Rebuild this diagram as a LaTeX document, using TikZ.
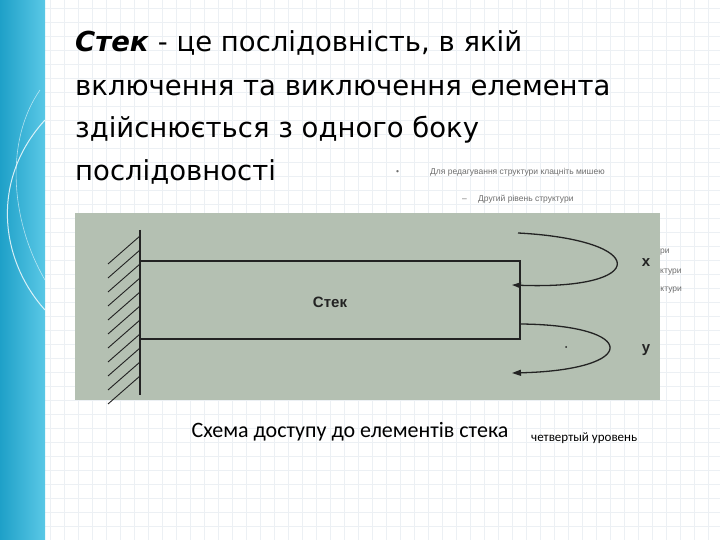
\documentclass[tikz,border=0pt]{standalone}
\usepackage{fontspec}
\setmainfont{Carlito}
\newfontfamily\smallsans{Liberation Sans}
\newfontfamily\ttlfont{DejaVu Sans}
\usetikzlibrary{arrows.meta}
\definecolor{scan}{RGB}{180,192,178}
\definecolor{bandA}{RGB}{30,160,200}
\definecolor{bandB}{RGB}{90,200,230}
\definecolor{gridc}{RGB}{236,240,244}
\definecolor{ink}{RGB}{35,35,35}
\definecolor{faint}{RGB}{110,110,110}
\tikzset{
  ttl/.style={anchor=base west,inner sep=0pt,font=\ttlfont\fontsize{27.5}{28}\selectfont},
  small/.style={anchor=base west,inner sep=0pt,text=faint,font=\smallsans\fontsize{8.5}{9}\selectfont},
  arc/.style={ink,line width=1.3pt},
  tip/.style={-{Triangle[length=9pt,width=6pt]}},
  scanlbl/.style={font=\smallsans\bfseries\fontsize{15}{15}\selectfont,text=ink}
}
\begin{document}
\begin{tikzpicture}[x=1pt,y=1pt]
\useasboundingbox (0,0) rectangle (720,540);
\fill[white] (0,0) rectangle (720,540);
\foreach \i in {0,14,...,720} \draw[gridc,line width=0.5pt] (\i+50,0) -- (\i+50,540);
\foreach \j in {0,14,...,540} \draw[gridc,line width=0.5pt] (45,\j) -- (720,\j);
\shade[left color=bandA,right color=bandB] (0,0) rectangle (45,540);
\draw[white,line width=1pt,opacity=0.8] (45,420) .. controls (-10,360) and (0,280) .. (45,230);
\draw[white,line width=0.6pt,opacity=0.6] (40,450) .. controls (5,400) and (10,320) .. (45,260);
% title
\node[ttl] (l1) at (75,488) {\textbf{\textit{Стек}} - це послідовність, в якій};
\node[ttl] (l2) at (75,444) {включення та виключення елемента};
\node[ttl] (l3) at (75,402) {здійснюється з одного боку};
\node[ttl] (l4) at (75,359) {послідовності};
\node[small] (b1) at (396,365) {\textbullet};
\node[small] (s1) at (430,365) {Для редагування структури клацніть мишею};
\node[small] (d2) at (462,338) {–};
\node[small] (s2) at (478,338) {Другий рівень структури};
\node[small] (s3) at (660,286) {ри};
\node[small] (s4) at (660,266) {ктури};
\node[small] (s5) at (656,248) {уктури};
% scanned image
\fill[scan] (75,327) rectangle (660,140);
\node[draw=ink,line width=1.2pt,minimum width=380pt,minimum height=78pt,inner sep=0pt] (stack) at (330,240) {};
\node[scanlbl] (lbl) at (330,238) {Стек};
\draw[ink,line width=1.4pt] (140,310) -- (140,145);
\foreach \k in {0,...,10} \draw[ink,line width=0.9pt] (140,304-\k*14) -- (108,276-\k*14);
\coordinate (xs) at (518,307);
\coordinate (xe) at (512,255);
\coordinate (ys) at (520,216);
\coordinate (ye) at (512,167);
\draw[arc,tip] (xs) .. controls (650,300) and (650,250) .. (xe);
\draw[arc,tip] (ys) .. controls (640,215) and (640,170) .. (ye);
\node[scanlbl] (xl) at (646,277) {x};
\node[scanlbl] (yl) at (646,190) {y};
\fill[ink] (566,193) circle (1pt);
% caption
\node[anchor=base,inner sep=0pt,font=\fontsize{22}{22}\selectfont] (cap) at (350,102) {Схема доступу до елементів стека};
\node[anchor=base west,inner sep=0pt,font=\fontsize{13}{13}\selectfont] (c4) at (531,98) {четвертый уровень};
\end{tikzpicture}
\end{document}
